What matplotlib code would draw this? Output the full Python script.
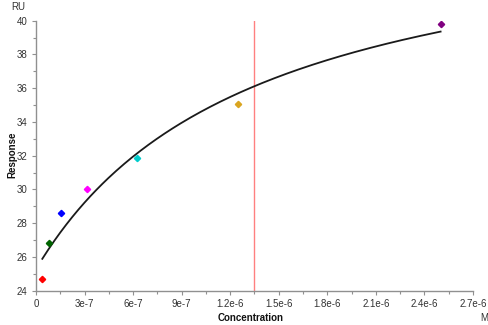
import numpy as np
import matplotlib.pyplot as plt
from matplotlib.ticker import MultipleLocator

plt.rcParams['font.family'] = ['Liberation Sans', 'DejaVu Sans']

# measured points (2-fold dilution series)
conc = [3.90625e-8, 7.8125e-8, 1.5625e-7, 3.125e-7, 6.25e-7, 1.25e-6, 2.5e-6]
resp = [24.72, 26.83, 28.6, 30.0, 31.86, 35.05, 39.8]
colors = ['#ff0000', '#006400', '#0000ff', '#ff00ff', '#00cccc', '#daa520', '#800080']

# steady-state affinity fit
kd = 1.349e-6
rmax = 21.67
offset = 25.28
xtick_labels = ['0', '3e-7', '6e-7', '9e-7', '1.2e-6', '1.5e-6', '1.8e-6', '2.1e-6', '2.4e-6', '2.7e-6']

fig = plt.figure(figsize=(4.89, 3.25), dpi=100)
ax = fig.add_axes([0.0736, 0.1055, 0.8936, 0.8308])

c = np.linspace(conc[0], conc[-1], 200)
ax.plot(c, rmax * c / (kd + c) + offset, color='#1a1a1a', lw=1.3, zorder=3)
ax.axvline(kd, color='#ff8080', lw=1.0, zorder=2)
for x, y, col in zip(conc, resp, colors):
    ax.plot(x, y, marker='D', ms=3.2, color=col, lw=0, zorder=4)

ax.set_xlim(0, 2.7e-6)
ax.set_ylim(24, 40)
ax.set_xticks(np.arange(10) * 3e-7)
ax.set_xticklabels(xtick_labels)
ax.xaxis.set_minor_locator(MultipleLocator(1.5e-7))
ax.yaxis.set_major_locator(MultipleLocator(2))
ax.yaxis.set_minor_locator(MultipleLocator(1))

for s in ['top', 'right']:
    ax.spines[s].set_visible(False)
for s in ['left', 'bottom']:
    ax.spines[s].set_color('#909090')
    ax.spines[s].set_linewidth(1.0)
ax.tick_params(which='major', length=3, width=0.8, color='#909090', labelsize=7, labelcolor='#333333', pad=3)
ax.tick_params(which='minor', length=2, width=0.8, color='#909090')

fig.text(11 / 489, 1 - 7 / 325, 'RU', fontsize=7, color='#333333', va='center', ha='left')
fig.text(12 / 489, 1 - 155 / 325, 'Response', fontsize=7, fontweight='bold', rotation=90,
         va='center', ha='center', color='#111111')
fig.text(251 / 489, 1 - 318 / 325, 'Concentration', fontsize=7, fontweight='bold',
         va='center', ha='center', color='#111111')
fig.text(484 / 489, 1 - 318 / 325, 'M', fontsize=7, va='center', ha='center', color='#333333')

fig.savefig('out.png', dpi=100)
